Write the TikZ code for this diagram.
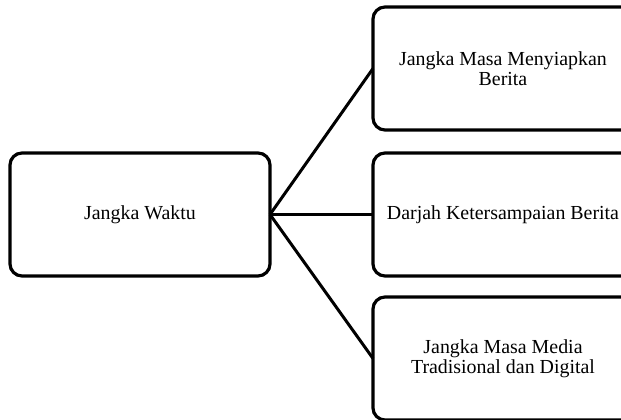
\documentclass[tikz,border=0pt]{standalone}
\usepackage{fontspec}
\setmainfont{Liberation Serif}
\begin{document}
\begin{tikzpicture}[x=1pt,y=1pt,inner sep=0pt,outer sep=0pt,
kotak/.style={draw,rectangle,rounded corners=12pt,minimum width=260pt,minimum height=123pt,line width=3.2pt,align=center,font=\fontsize{19.9}{19.5}\selectfont},
garis/.style={line width=3pt}]
\useasboundingbox (0,0) rectangle (621,420);
\clip (0,0) rectangle (621,420);
\draw (140,205.5) node[kotak] (waktu) {Jangka Waktu};
\draw (503,351.5) node[kotak] (menyiap) {Jangka Masa Menyiapkan\\Berita};
\draw (503,205.5) node[kotak] (darjah) {Darjah Ketersampaian Berita};
\draw (503,61.5) node[kotak] (media) {Jangka Masa Media\\Tradisional dan Digital};
\draw[garis] (waktu.east) -- (menyiap.west);
\draw[garis] (waktu.east) -- (darjah.west);
\draw[garis] (waktu.east) -- (media.west);
\end{tikzpicture}
\end{document}
